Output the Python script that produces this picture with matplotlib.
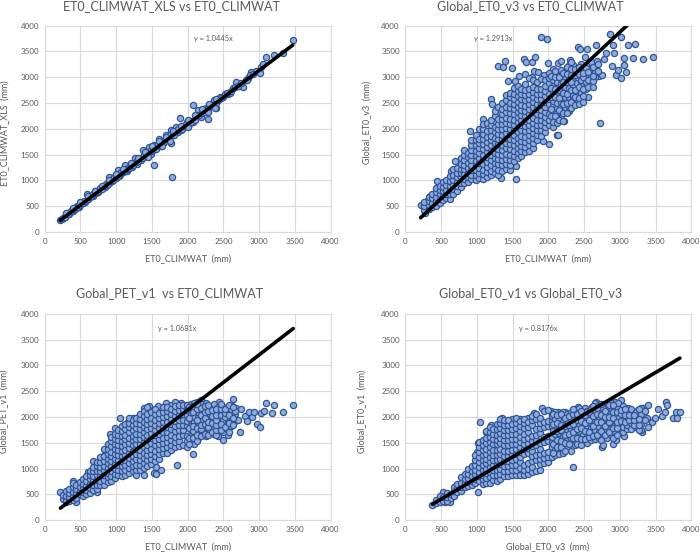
import matplotlib
matplotlib.use("Agg")
import matplotlib.pyplot as plt

plt.rcParams['font.family'] = ['Lato', 'DejaVu Sans']

W, H = 700, 552
TICKS = [0, 500, 1000, 1500, 2000, 2500, 3000, 3500, 4000]

titles = ["ET0_CLIMWAT_XLS vs ET0_CLIMWAT", "Global_ET0_v3 vs ET0_CLIMWAT",
          "Gobal_PET_v1  vs ET0_CLIMWAT", "Global_ET0_v1 vs Global_ET0_v3"]
xlabels = ["ET0_CLIMWAT  (mm)", "ET0_CLIMWAT  (mm)", "ET0_CLIMWAT  (mm)", "Global_ET0_v3  (mm)"]
ylabels = ["ET0_CLIMWAT_XLS  (mm)", "Global_ET0_v3  (mm)", "Global_PET_v1  (mm)", "Global_ET0_v1  (mm)"]
slopes = [1.0445, 1.2913, 1.0681, 0.8176]
equations = ["y = 1.0445x", "y = 1.2913x", "y = 1.0681x", "y = 0.8176x"]

points_a = [(215,225),(240,250),(260,270),(285,300),(300,320),(320,345),(340,350),(360,385),(380,405),(400,410),
(420,440),(440,480),(450,500),(475,490),(500,515),(520,560),(540,590),(565,585),(590,730),(610,640),(630,680),
(650,690),(675,700),(700,790),(720,750),(740,770),(765,810),(790,830),(810,870),(830,900),(850,880),(870,910),
(900,1070),(920,960),(940,980),(960,1020),(980,1040),(1000,1040),(1020,1200),(1040,1090),(1060,1100),(1080,1160),
(1100,1160),(1115,1230),(1130,1300),(1150,1190),(1170,1220),(1195,1280),(1220,1260),(1240,1330),(1260,1440),
(1290,1310),(1310,1390),(1340,1400),(1370,1590),(1395,1450),(1420,1480),(1440,1560),(1460,1640),(1480,1520),
(1500,1570),(1530,1300),(1530,1680),(1560,1600),(1585,1700),(1600,1800),(1625,1660),(1650,1730),(1675,1770),
(1700,1880),(1730,1790),(1760,1720),(1780,1060),(1770,1980),(1800,1880),(1830,2040),(1860,1930),(1890,2220),
(1900,1980),(1930,2020),(1960,2050),(1990,2130),(2020,2100),(2050,2150),(2070,2460),(2080,2140),(2110,2260),
(2150,2360),(2170,2260),(2190,2230),(2220,2390),(2250,2400),(2280,2200),(2300,2430),(2330,2440),(2370,2560),
(2400,2410),(2420,2560),(2450,2620),(2490,2610),(2520,2680),(2560,2680),(2590,2700),(2640,2790),(2680,2900),
(2720,2830),(2770,2810),(2810,2950),(2850,2990),(2890,3110),(2950,3120),(3010,3090),(3030,3200),(3060,3260),
(3100,3400),(3200,3430),(3330,3480),(3470,3720),
(280,300),(320,350),(370,400),(410,445),(460,490),(480,530),(530,570),(550,600),(600,640),(620,680),(660,700),
(680,740),(720,770),(750,800),(780,850),(800,840),(840,900),(860,930),(890,940),(910,980),(950,1000),(970,1060),
(1000,1080),(1030,1090),(1060,1140),(1090,1170),(1120,1180),(1140,1230),(1180,1240),(1200,1290),(1230,1300),
(1270,1360),(1300,1370),(1330,1430),(1360,1430),(1390,1500),(1430,1500),(1450,1560),(1490,1590),(1520,1620),
(1550,1660),(1570,1680),(1610,1690),(1640,1750),(1670,1740),(1690,1800),(1720,1820),(1750,1880),(1790,1910),
(1810,1880),(1840,1950),(1870,2000),(1920,2000),(1940,2060),(1980,2090),(2000,2060),(2040,2140),(2100,2180),
(2130,2260),(2160,2270),(2200,2310),(2240,2320),(2270,2380),(2310,2450),(2350,2470),(2390,2500),(2430,2560),
(2470,2590),(2550,2700),(2610,2740),(2660,2810),(2700,2840),(2750,2880),(2830,2950),(2870,3050),(2920,3060),
(300,360),(400,470),(500,580),(600,690),(700,800),(800,900),(900,1000),(1000,1120),(1100,1230),(1200,1340),
(1300,1440),(1400,1550),(1500,1660),(1600,1760),(1700,1850),(1800,1960),(1900,2060),(2000,2170),(2100,2270),
(2200,2380),(2300,2490),(2400,2580),(1450,1450),(1640,1660),(1750,1760),(2000,2040),(2280,2330),(2380,2410)]

points_b = [(215,520),(270,370),(290,530),(300,610),(345,690),(445,980),(555,960),(635,1180),(700,1380),(905,1960),
(1080,2190),(1195,2570),(1210,2480),(1290,3220),(1335,1040),(1370,3200),(1400,3320),(1435,2920),(1490,3180),
(1530,2920),(1545,1030),(1550,1270),(1590,3030),(1660,3360),(1680,3060),(1695,3290),(1770,3300),(1775,3010),
(1800,3130),(1810,3400),(1850,3100),(1900,3780),(1925,1760),(1945,3050),(1975,3740),(2000,3280),(2015,1700),
(2045,3000),(2070,3160),(2115,1890),(2140,1880),(2130,3270),(2180,3320),(2220,2160),(2230,3060),(2300,3340),
(2415,3580),(2450,3540),(2510,3400),(2540,3550),(2550,2620),(2610,3230),(2670,3630),(2680,3320),(2710,3030),
(2730,2120),(2750,3040),(2780,3360),(2800,3470),(2860,3830),(2890,3220),(2910,3620),(2920,3480),(2950,3040),
(2980,3140),(3010,2990),(3010,3780),(3060,3240),(3060,3380),(3090,3110),(3110,3630),(3180,3380),(3210,3650),
(3330,3360),(3470,3390)]
columns_b = [(260,[430,500,590]),(330,[440,525,600,680]),(375,[480,565,650,735]),(435,[510,600,685,770,860]),
(480,[560,645,730,810,900]),(525,[620,705,790,875,960]),(570,[650,740,820,910,1000]),(625,[640,735,810,900,985,1080]),
(665,[740,825,920,1010,1110,1230]),(725,[800,890,975,1060,1150,1250]),(775,[870,950,1040,1135,1220,1310,1430]),
(825,[950,1030,1120,1215,1300,1390,1490,1590]),(875,[960,1060,1150,1240,1335,1450,1540]),
(925,[1020,1110,1205,1300,1400,1490,1590,1680,1790]),(985,[1010,1100,1200,1290,1385,1490,1580,1680,1775,1890]),
(1035,[1050,1140,1240,1330,1430,1525,1620,1720,1810,1990]),(1090,[1020,1120,1210,1310,1410,1500,1610,1700,1800,1900,2000,2090]),
(1145,[1070,1170,1260,1360,1455,1550,1650,1750,1850,1950,2110]),(1195,[1100,1190,1290,1390,1490,1580,1680,1785,1870,1970,2070,2170]),
(1250,[1140,1240,1340,1440,1530,1630,1730,1830,1935,2030,2250,2340]),(1300,[1110,1210,1310,1410,1510,1610,1700,1800,1900,2000,2100,2200,2420]),
(1355,[1190,1290,1390,1490,1590,1690,1795,1890,1990,2090,2190,2290,2390,2510]),
(1410,[1220,1320,1420,1520,1620,1720,1820,1920,2020,2120,2220,2320,2430,2560,2660]),
(1460,[1200,1300,1400,1500,1600,1700,1800,1905,2000,2100,2200,2300,2400,2500,2610,2700]),
(1515,[1380,1480,1580,1680,1780,1880,1980,2080,2180,2280,2380,2480,2580,2680,2800]),
(1570,[1430,1530,1630,1730,1830,1930,2030,2130,2230,2330,2430,2530,2630,2730,2840]),
(1625,[1470,1570,1670,1770,1870,1970,2070,2170,2270,2370,2470,2570,2670,2770]),
(1680,[1550,1650,1750,1850,1950,2050,2150,2250,2350,2450,2550,2650,2750,2870]),
(1735,[1580,1680,1780,1880,1980,2080,2180,2280,2380,2480,2580,2680,2780,2980]),
(1790,[1620,1720,1820,1920,2020,2120,2220,2320,2420,2520,2620,2720,2820,2950]),
(1845,[1780,1880,1980,2080,2180,2280,2380,2480,2580,2680,2780,2900]),
(1900,[1870,1970,2070,2170,2270,2370,2470,2570,2670,2770,2970]),
(1955,[1930,2030,2130,2230,2330,2430,2530,2640,2740,2840,2940]),
(2010,[2080,2180,2280,2480,2580,2680,2880,2980,3080]),(2065,[2040,2140,2340,2440,2540,2740,2840,2940]),
(2120,[2110,2310,2410,2510,2710,2810,2910,3050]),(2175,[2220,2320,2420,2520,2620,2860,2960,3150]),
(2230,[2420,2520,2620,2720,2820,2970]),(2285,[2350,2450,2620,2720,2800,3000,3130,3230]),
(2340,[2570,2660,2850,2950,3100,3230]),(2400,[2620,2700,2880,3000,3100]),(2460,[2700,2860,2940,3120,3250]),
(2530,[2780,2900,3030,3180]),(2600,[2950,3050,3120,3300]),(2650,[3000,3100,3200]),
(2040,[2240,2380,2620,2790,3030]),(2095,[2240,2620,2780,3000,3130]),(2150,[2170,2370,2600,2760,3000]),
(2205,[2150,2300,2480,2700,2900,3080]),(2260,[2300,2500,2670,2900,3060,3190]),(2315,[2400,2520,2750,2900,3040,3160,3290]),
(2370,[2460,2620,2760,3050,3170]),(2430,[2480,2600,2820,3060,3190]),(2490,[2520,2640,2780,3000,3080]),
(2560,[2820,2950,3100]),(2630,[2820,2930,3030,3200]),(2700,[3130,3250])]

points_c = [(220,550),(270,430),(300,360),(400,770),(420,410),(440,360),(600,930),(680,1140),(735,550),(755,1040),
(850,1300),(885,1450),(915,1680),(985,1790),(1050,1990),(1170,1900),(1235,1990),(1335,1980),(1390,2170),(1465,2210),
(1530,920),(1560,890),(1560,1040),(1590,2210),(1620,970),(1700,2270),(1765,2240),(1820,2290),(1850,1080),(1900,2280),
(2030,2230),(2070,1280),(2130,2300),(2190,2330),(2250,2240),(2340,2220),(2420,1640),(2440,2290),(2500,1550),(2530,1900),
(2560,1660),(2620,2220),(2640,2340),(2660,1920),(2680,2170),(2710,1950),(2730,1710),(2750,2150),(2800,2020),
(2830,1920),(2860,2090),(2900,2000),(2930,2100),(2970,1870),(3010,1800),(3020,2080),(3070,2120),(3100,2280),
(3175,2070),(3205,2240),(3330,2100),(3475,2240)]
columns_c = [(260,[420,490]),(300,[400,480,560]),(340,[380,450,530,610]),(390,[390,470,550,640,720]),(440,[440,520,600,690]),
(490,[500,570,650,740]),(535,[470,550,630,710,790]),(580,[500,590,670,760,860]),(630,[530,620,710,790,880,960]),
(680,[590,680,770,860,950,1040]),(730,[610,690,780,870,960,1060,1130]),(780,[680,770,860,950,1040,1130,1220]),
(830,[690,780,880,970,1060,1150,1250,1380]),(880,[740,830,920,1010,1100,1190,1290,1390,1480]),
(930,[760,860,950,1050,1140,1240,1330,1430,1530,1620]),(980,[810,900,1000,1090,1190,1280,1380,1470,1570,1670]),
(1030,[880,970,1070,1160,1260,1360,1450,1550,1650,1740]),(1080,[860,960,1050,1150,1250,1350,1440,1540,1640,1730,1830]),
(1130,[880,980,1080,1170,1270,1370,1470,1570,1660,1760,1860]),(1180,[910,1010,1110,1210,1300,1400,1500,1600,1700,1800,1890,1980]),
(1230,[950,1050,1150,1250,1350,1450,1550,1640,1740,1840,1940]),(1280,[870,980,1080,1180,1280,1380,1480,1580,1680,1780,1880,1980]),
(1330,[970,1070,1170,1270,1370,1470,1570,1670,1770,1870,1970,2060]),(1385,[880,1010,1110,1210,1310,1410,1510,1610,1710,1810,1910,2010,2120]),
(1435,[1060,1160,1260,1360,1460,1560,1660,1760,1860,1960,2060,2190]),(1490,[1090,1190,1290,1390,1490,1590,1690,1790,1890,1990,2090]),
(1545,[1150,1250,1350,1450,1550,1650,1750,1850,1950,2050,2150]),(1600,[1180,1280,1380,1480,1580,1680,1780,1880,1980,2080]),
(1655,[1300,1400,1500,1600,1700,1800,1900,2000,2100,2190]),(1710,[1310,1410,1510,1610,1710,1810,1910,2010,2110,2200]),
(1765,[1360,1460,1560,1660,1760,1860,1960,2060,2160]),(1820,[1420,1520,1620,1720,1820,1920,2020,2120,2210]),
(1875,[1440,1540,1640,1740,1840,1940,2040,2140,2240]),(1930,[1450,1650,1750,1850,1950,2050,2150,2240]),
(1985,[1420,1530,1630,1830,1930,2030,2130,2230]),(2040,[1550,1650,1750,1850,1950,2050,2150,2250]),
(2095,[1480,1700,1800,1900,2000,2200,2280]),(2150,[1600,1700,1900,2000,2100,2210]),(2205,[1700,1800,1950,2060,2150,2260]),
(2260,[1640,1810,1910,2010,2110,2190,2280]),(2315,[1750,1850,1950,2050,2150]),(2370,[1680,1780,1980,2080,2180,2250]),
(2430,[1800,1900,2000,2100,2190]),(2490,[1700,1850,1950,2130,2200]),(2550,[1760,1980,2100]),(2600,[1830,1930,2150]),(2660,[2050,2120]),
(2015,[1480,1600,1780,1980,2190]),(2070,[1600,1720,1820,2100,2210]),(2125,[1530,1650,1780,1950,2150,2260]),
(2180,[1630,1760,1850,2040,2180]),(2235,[1680,1860,1990,2100,2210]),(2290,[1660,1800,1900,2120,2240]),
(2345,[1700,1880,2020,2130]),(2400,[1650,1750,1850,1950,2040,2150]),(2460,[1740,1860,2040,2150,2260]),
(2520,[1810,2000,2070,2160]),(2580,[1700,1880,2030,2230]),(2640,[1850,1990,2200])]

points_d = [(380,300),(530,550),(550,360),(620,350),(1015,550),(1000,1320),(1010,1500),(1040,1900),(1100,1500),(1130,1700),
(1200,1840),(1350,1980),(1495,1970),(1600,1960),(1710,1990),(1800,2080),(1905,2170),(2040,2120),(2130,2090),(2235,2090),
(2340,1040),(2410,2200),(2520,2170),(2610,2200),(2670,2290),(2750,1410),(2765,1460),(2820,2200),(2910,1480),(2930,2290),
(2950,1550),(3010,2330),(3060,1640),(3120,2180),(3250,2130),(3310,1710),(3330,2170),(3380,1990),(3400,2240),(3400,1810),
(3450,1900),(3490,1980),(3540,2160),(3590,2020),(3630,2090),(3640,2290),(3660,2240),(3750,1980),(3790,2090),(3800,1980),(3840,2090)]
columns_d = [(430,[330,400]),(480,[350,470]),(530,[380,460]),(580,[370,450,530]),(640,[430,510]),(680,[470,560,640]),
(730,[540,620,700]),(780,[560,640,720,830]),(830,[640,720,800,890]),(880,[660,740,820,900,990]),(930,[690,770,860,950,1050]),
(980,[720,800,890,980,1070,1160,1260]),(1030,[760,850,940,1030,1120,1220,1320,1420,1510]),
(1080,[700,790,880,980,1070,1170,1260,1360,1460,1560]),(1130,[720,810,910,1000,1100,1190,1290,1390,1490,1590,1720]),
(1180,[730,830,930,1030,1120,1220,1320,1420,1510,1610,1710,1810]),(1230,[780,880,980,1080,1170,1270,1370,1470,1570,1670,1770]),
(1280,[770,870,970,1070,1170,1270,1370,1470,1560,1660,1760,1860]),(1330,[800,900,1000,1090,1190,1290,1390,1490,1590,1690,1790,1890,1970]),
(1385,[850,950,1050,1150,1250,1350,1450,1550,1650,1750,1850,1950]),(1440,[850,950,1050,1150,1250,1350,1450,1550,1650,1750,1850,1950]),
(1495,[870,970,1070,1170,1270,1370,1470,1570,1670,1770,1870]),(1550,[880,980,1080,1180,1280,1380,1480,1580,1680,1780,1880,1980]),
(1605,[870,1020,1120,1220,1320,1420,1520,1620,1720,1820,1920]),(1660,[880,980,1080,1280,1380,1480,1580,1680,1780,1880,1970]),
(1715,[900,1000,1100,1300,1400,1500,1600,1700,1800,1900]),(1770,[940,1040,1140,1240,1340,1440,1540,1640,1840,1940,2020]),
(1825,[960,1160,1260,1460,1560,1660,1760,1960,2060]),(1880,[970,1090,1190,1290,1390,1490,1690,1790,1890,1990]),
(1935,[1110,1210,1310,1510,1610,1810,1910,2110]),(1990,[1130,1230,1330,1530,1630,1830,1930,2130]),
(2045,[1220,1420,1520,1620,1820,1920,2020]),(2100,[1270,1370,1470,1670,1770,1970,2090]),(2155,[1290,1490,1590,1690,1790,1990]),
(2210,[1310,1410,1610,1710,1910,2010,2100]),(2265,[1420,1550,1650,1750,1950,2050]),(2320,[1350,1500,1600,1750,1950,2100]),
(2375,[1450,1550,1800,1900,2000,2100]),(2430,[1500,1630,1730,1850,2050,2180]),(2485,[1530,1650,1850,1950,2100]),
(2540,[1500,1680,1780,1980,2110]),(2595,[1560,1780,1880,2080,2170]),(2650,[1570,1750,1850,1950,2130,2270]),
(2705,[1600,1700,1800,2000,2100,2230]),(2760,[1680,1780,1980,2080,2180]),(2815,[1590,1750,1850,1950,2050,2130]),
(2870,[1650,1780,1880,2080,2180,2280]),(2925,[1720,1820,1950,2050,2150]),(2980,[1780,1880,1980,2180,2280]),
(3040,[1700,1800,1990,2100,2220]),(3100,[1760,1850,1990,2090]),(3160,[1760,1880,2050,2150]),(3230,[1800,1900,2000,2100]),
(3300,[1740,1870,2050,2180]),(3350,[1950,2120]),
(2070,[1310,1470,1720,1870,2060]),(2125,[1410,1560,1720,1890,2030]),(2180,[1420,1540,1740,1850,2050]),
(2240,[1350,1500,1660,1830,1980]),(2295,[1480,1680,1850,2020]),(2350,[1600,1700,1870,2050,2150]),
(2405,[1470,1600,1760,1950,2060]),(2460,[1460,1580,1780,1920,2120]),(2515,[1570,1730,1880,2040]),
(2570,[1620,1700,1950,2100]),(2625,[1640,1820,2020,2210]),(2680,[1650,1900,2060,2170]),
(2735,[1560,1730,1900,2030,2250]),(2790,[1650,1820,2000,2120]),(2845,[1700,1900,2000,2230]),
(2900,[1600,1790,1980,2100,2230]),(2955,[1650,1780,1900,2100]),(3010,[1920,2050,2140]),(3070,[1900,2040,2160]),
(3130,[1950,2030]),(3195,[1850,1950,2040]),(3265,[1750,1850,1960,2160])]

def merged(points, columns=()):
    out = list(points)
    for x, ys in columns:
        out.extend((x, y) for y in ys)
    return out

panels = [merged(points_a), merged(points_b, columns_b), merged(points_c, columns_c), merged(points_d, columns_d)]

axes_px = [(44.7, 25.7, 330.7, 232.0), (405.3, 25.7, 691.3, 232.0),
           (44.7, 313.7, 330.7, 520.3), (405.3, 313.7, 691.3, 520.3)]
title_px = [(171, 6), (530, 6), (170, 293), (531, 293)]
xlabel_px = [(188, 259), (548, 259), (188, 547), (548, 547)]
ylabel_px = [(5, 133), (367, 122), (4, 411), (362, 411)]
eq_px = [(213, 38), (493, 38), (177, 329), (538, 328)]

fig = plt.figure(figsize=(W / 100, H / 100), dpi=100)
fig.patch.set_facecolor('white')
GREY = '#595959'
for i, pts in enumerate(panels):
    l, t, r, b = axes_px[i]
    ax = fig.add_axes([l / W, 1 - b / H, (r - l) / W, (b - t) / H])
    xs = [p[0] for p in pts]
    ys = [p[1] for p in pts]
    ax.scatter(xs, ys, s=20, facecolor='#8FAADC', edgecolor='#2F5597', linewidth=0.9, zorder=3, clip_on=False)
    x0, x1 = min(xs), max(xs)
    ax.plot([x0, x1], [slopes[i] * x0, slopes[i] * x1], color='black', lw=2.6, zorder=4,
            solid_capstyle='round')
    ax.set_xlim(0, 4000)
    ax.set_ylim(0, 4000)
    ax.set_xticks(TICKS)
    ax.set_yticks(TICKS)
    ax.grid(True, color='#D9D9D9', lw=0.8, zorder=0)
    ax.set_axisbelow(True)
    ax.tick_params(length=0, labelsize=5.8, labelcolor=GREY, pad=4)
    for s in ax.spines.values():
        s.set_color('#D9D9D9')
        s.set_linewidth(0.8)
    fig.text(title_px[i][0] / W, 1 - title_px[i][1] / H, titles[i], ha='center', va='center',
             fontsize=9, color=GREY)
    fig.text(xlabel_px[i][0] / W, 1 - xlabel_px[i][1] / H, xlabels[i], ha='center', va='center',
             fontsize=6.5, color=GREY)
    fig.text(ylabel_px[i][0] / W, 1 - ylabel_px[i][1] / H, ylabels[i], ha='center', va='center',
             rotation=90, fontsize=6.5, color=GREY)
    fig.text(eq_px[i][0] / W, 1 - eq_px[i][1] / H, equations[i], ha='center', va='center',
             fontsize=5.3, color=GREY)
fig.savefig('out.png', dpi=100)
